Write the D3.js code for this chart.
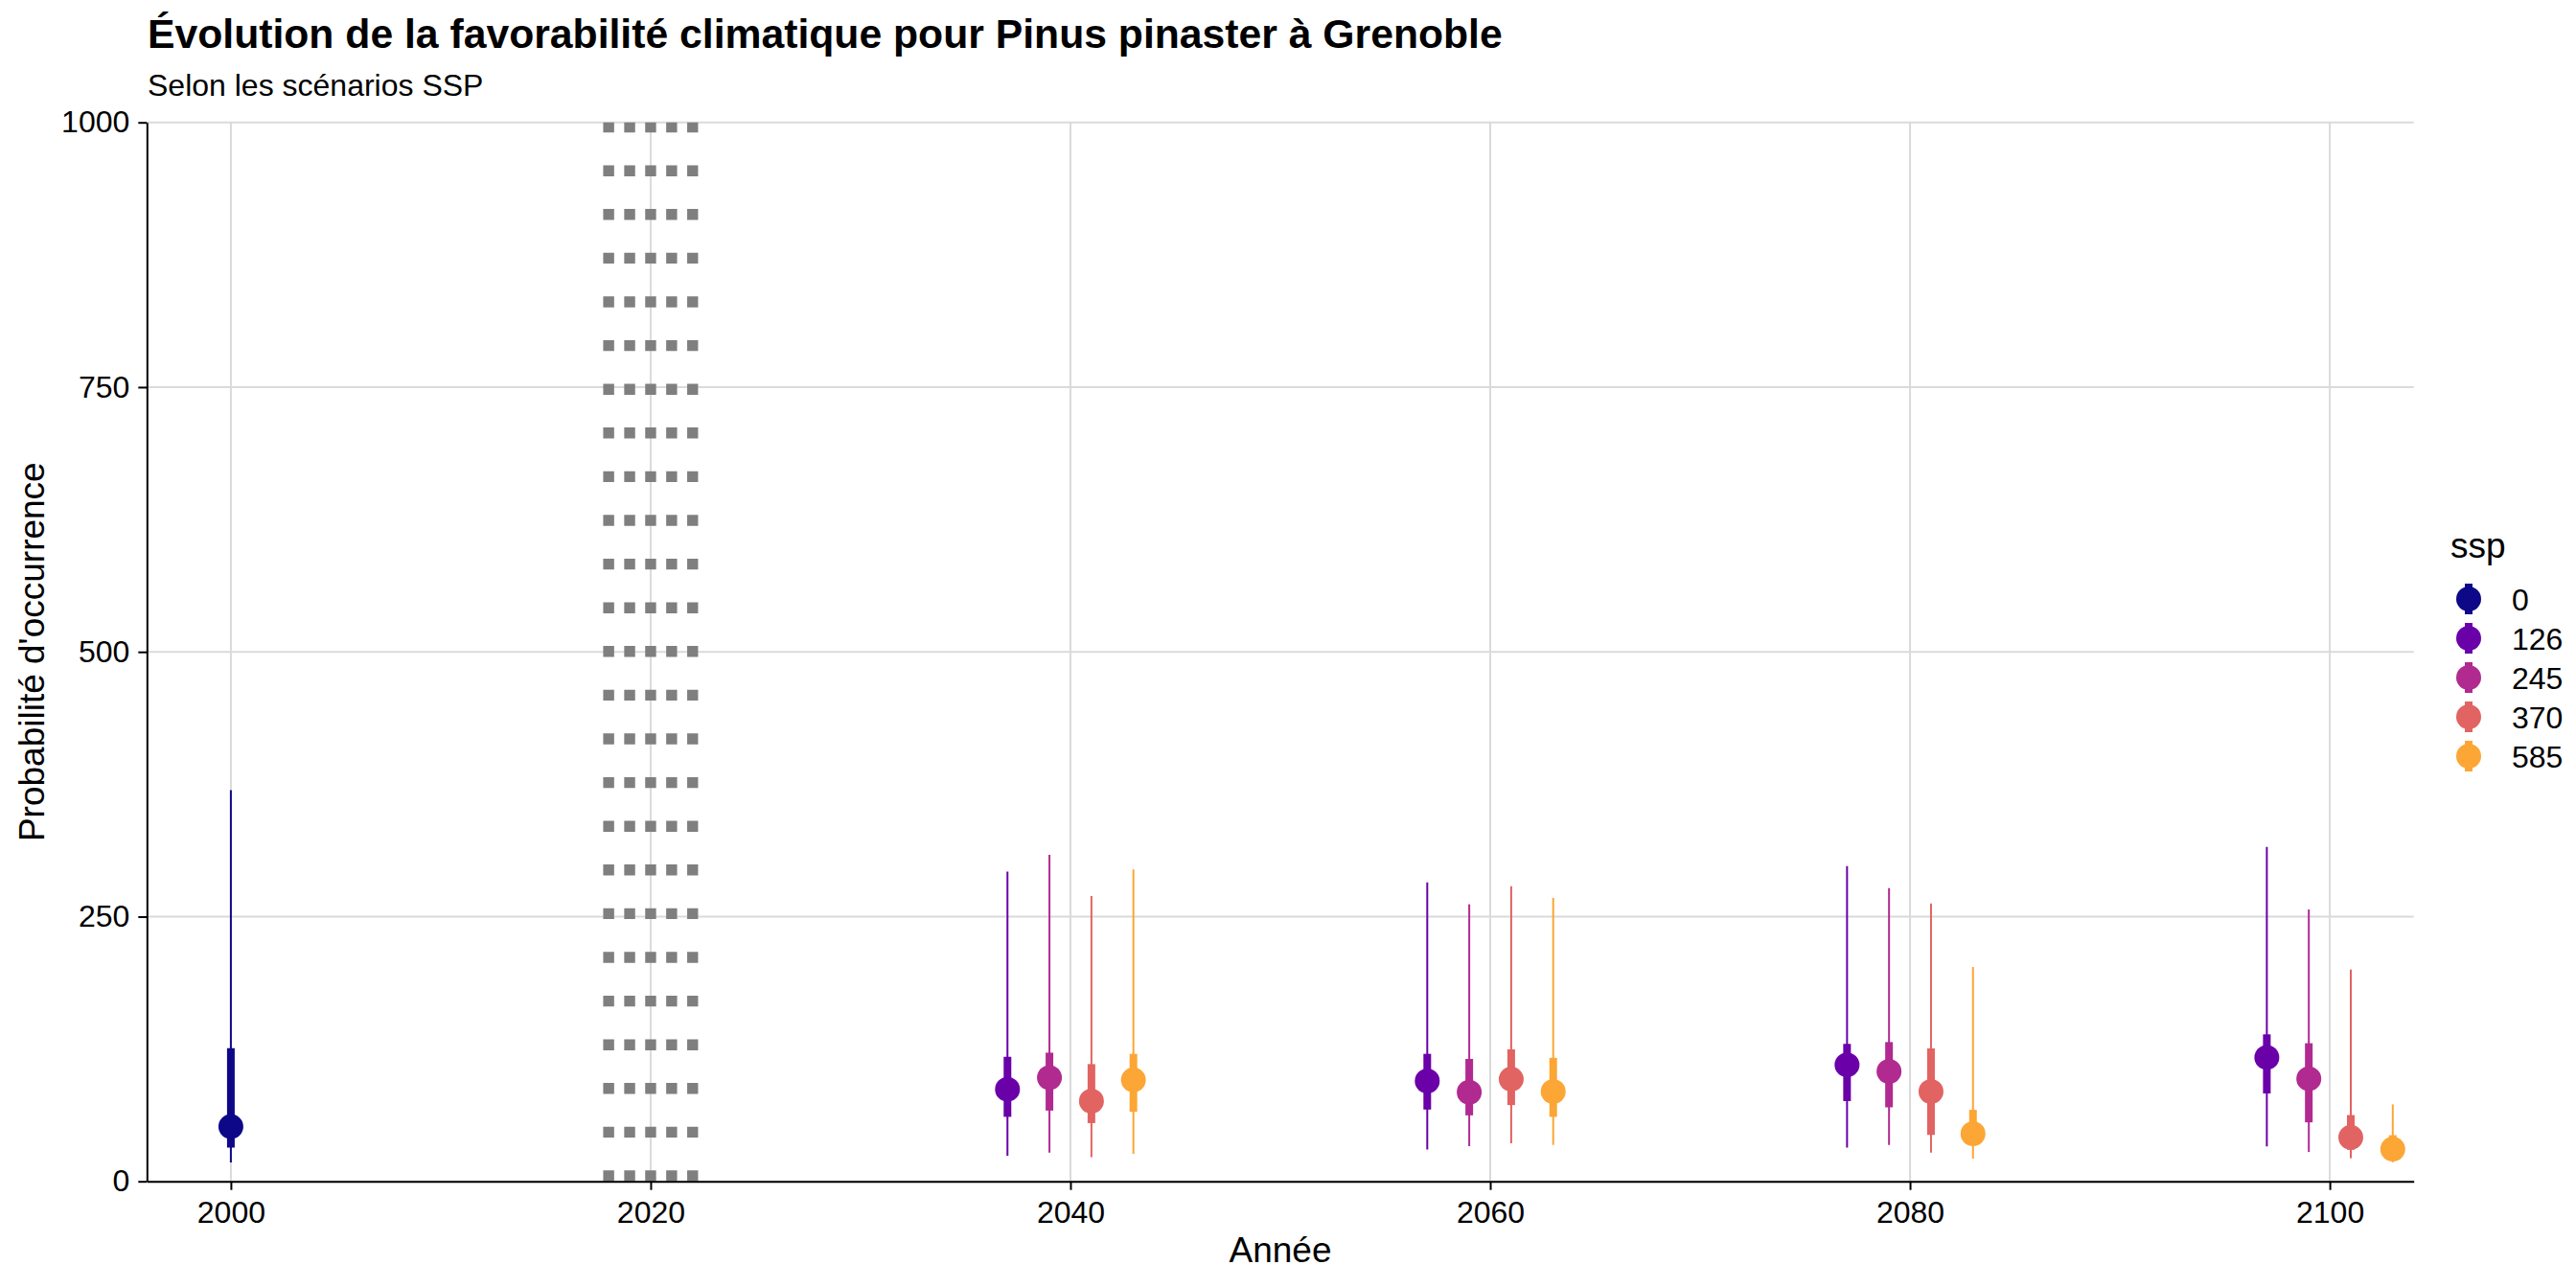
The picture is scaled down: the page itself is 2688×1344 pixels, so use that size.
<!DOCTYPE html>
<html>
<head>
<meta charset="utf-8">
<script src="https://cdn.jsdelivr.net/npm/d3@7"></script>
<style>
  body { margin: 0; background: #fff; }
  text { font-family: "Liberation Sans", Arial, Helvetica, sans-serif; fill: #000; }
</style>
</head>
<body>
<script>
// scenarios, periods, ticks
let ssps = ["0", "126", "245", "370", "585"];
let futureSsps = ["126", "245", "370", "585"];
let periods = [2040, 2060, 2080, 2100];
let refYear = 2000;
let cutYears = [2018, 2019, 2020, 2021, 2022];
let xTicks = [2000, 2020, 2040, 2060, 2080, 2100];
let yTicks = [0, 250, 500, 750, 1000];
let palette = ["#0D0887", "#6A00A8", "#B12A90", "#E16462", "#FCA636"];

// reference period, ssp 0: lo95, lo50, median, hi50, hi95
let refStats = [17.8, 31.9, 51.7, 125.7, 369.4];

// future periods: one row per ssp (126, 245, 370, 585), one column per period
let medians = [
  [86.9, 94.8, 110.0, 117.0],
  [97.9, 84.1, 103.8, 96.9],
  [75.8, 96.5, 84.8, 41.5],
  [95.8, 84.8, 45.0, 30.4]
];
let lo50 = [
  [60.9, 67.8, 75.8, 83.0],
  [66.8, 62.3, 69.9, 55.7],
  [55.0, 72.0, 43.9, 29.8],
  [65.7, 60.9, 35.0, 23.5]
];
let hi50 = [
  [117.6, 120.4, 129.8, 138.8],
  [121.5, 115.6, 131.5, 130.4],
  [110.7, 124.6, 125.6, 62.6],
  [120.4, 116.6, 67.5, 43.6]
];
let lo95 = [
  [24.2, 30.1, 31.8, 32.9],
  [27.0, 33.2, 34.3, 27.7],
  [22.8, 36.0, 27.0, 21.8],
  [26.0, 34.3, 21.5, 18.0]
];
let hi95 = [
  [292.4, 282.4, 297.6, 315.9],
  [308.3, 261.6, 276.8, 256.7],
  [269.5, 278.6, 262.3, 200.0],
  [294.5, 267.5, 202.4, 72.7]
];

// rows for drawing
let rows = [{ssp: "0", year: refYear, off: 0,
  lo95: refStats[0], lo50: refStats[1], med: refStats[2], hi50: refStats[3], hi95: refStats[4]}];

let dodge = d3.scalePoint().domain(futureSsps).range([-3, 3]);

futureSsps.forEach(function(s, i) {
  periods.forEach(function(p, j) {
    rows.push({ssp: s, year: p, off: dodge(s),
      lo95: lo95[i][j], lo50: lo50[i][j], med: medians[i][j], hi50: hi50[i][j], hi95: hi95[i][j]});
  });
});

// size of the page
let w = 2688;
let h = 1344;
let pLeft = 153.3, pRight = 2518.7, pTop = 127.7, pBottom = 1232.7;

let svg = d3.select("body")
            .append("svg")
            .attr("width", w)
            .attr("height", h);

svg.append("rect")
   .attr("width", w)
   .attr("height", h)
   .attr("fill", "#fff");

let x = d3.scaleLinear().domain([1996, 2104]).range([pLeft, pRight]);
let y = d3.scaleLinear().domain([0, 1000]).range([pBottom, pTop]);
let color = d3.scaleOrdinal().domain(ssps).range(palette);

//====grid====//
svg.selectAll("line.hgrid")
   .data(yTicks)
   .enter()
   .append("line")
   .attr("class", "hgrid")
   .attr("x1", pLeft)
   .attr("x2", pRight)
   .attr("y1", function(d) { return y(d); })
   .attr("y2", function(d) { return y(d); })
   .attr("stroke", "#dadada")
   .attr("stroke-width", 2);

svg.selectAll("line.vgrid")
   .data(xTicks)
   .enter()
   .append("line")
   .attr("class", "vgrid")
   .attr("x1", function(d) { return x(d); })
   .attr("x2", function(d) { return x(d); })
   .attr("y1", pBottom)
   .attr("y2", pTop)
   .attr("stroke", "#dadada")
   .attr("stroke-width", 2);

//====dotted lines around 2020====//
svg.selectAll("line.cut")
   .data(cutYears)
   .enter()
   .append("line")
   .attr("class", "cut")
   .attr("x1", function(d) { return x(d); })
   .attr("x2", function(d) { return x(d); })
   .attr("y1", pBottom)
   .attr("y2", pTop)
   .attr("stroke", "#7f7f7f")
   .attr("stroke-width", 11.4)
   .attr("stroke-dasharray", "11.4,34.2")
   .attr("stroke-linecap", "butt");

//====intervals====//
let g = svg.append("g");

g.selectAll("line.thin")
 .data(rows)
 .enter()
 .append("line")
 .attr("class", "thin")
 .attr("x1", function(d) { return x(d.year + d.off); })
 .attr("x2", function(d) { return x(d.year + d.off); })
 .attr("y1", function(d) { return y(d.lo95); })
 .attr("y2", function(d) { return y(d.hi95); })
 .attr("stroke", function(d) { return color(d.ssp); })
 .attr("stroke-width", 2);

g.selectAll("line.thick")
 .data(rows)
 .enter()
 .append("line")
 .attr("class", "thick")
 .attr("x1", function(d) { return x(d.year + d.off); })
 .attr("x2", function(d) { return x(d.year + d.off); })
 .attr("y1", function(d) { return y(d.lo50); })
 .attr("y2", function(d) { return y(d.hi50); })
 .attr("stroke", function(d) { return color(d.ssp); })
 .attr("stroke-width", 8);

g.selectAll("circle")
 .data(rows)
 .enter()
 .append("circle")
 .attr("cx", function(d) { return x(d.year + d.off); })
 .attr("cy", function(d) { return y(d.med); })
 .attr("r", 13)
 .attr("fill", function(d) { return color(d.ssp); });

//====axes====//
let yAxis = svg.append("g")
   .attr("transform", "translate(" + pLeft + ",0)")
   .call(d3.axisLeft(y).tickValues(yTicks).tickFormat(d3.format("d")).tickSize(9).tickSizeOuter(0).tickPadding(9));

let xAxis = svg.append("g")
   .attr("transform", "translate(0," + pBottom + ")")
   .call(d3.axisBottom(x).tickValues(xTicks).tickFormat(d3.format("d")).tickSize(9).tickSizeOuter(0).tickPadding(12));

[yAxis, xAxis].forEach(function(a) {
  a.select(".domain").attr("stroke", "#000").attr("stroke-width", 2);
  a.selectAll(".tick line").attr("stroke", "#000").attr("stroke-width", 2);
  a.selectAll(".tick text")
   .attr("font-family", "Liberation Sans, Arial, sans-serif")
   .attr("font-size", "32px")
   .attr("fill", "#000");
});

//====titles====//
svg.append("text")
   .attr("x", 154)
   .attr("y", 50)
   .attr("font-size", "42.7px")
   .attr("font-weight", "bold")
   .text("Évolution de la favorabilité climatique pour Pinus pinaster à Grenoble");

svg.append("text")
   .attr("x", 154)
   .attr("y", 100)
   .attr("font-size", "32px")
   .text("Selon les scénarios SSP");

svg.append("text")
   .attr("x", (pLeft + pRight) / 2)
   .attr("y", 1317)
   .attr("text-anchor", "middle")
   .attr("font-size", "37px")
   .text("Année");

svg.append("text")
   .attr("transform", "translate(46," + ((pTop + pBottom) / 2) + ") rotate(-90)")
   .attr("text-anchor", "middle")
   .attr("font-size", "37px")
   .text("Probabilité d'occurrence");

//====legend====//
let legend = svg.append("g");

legend.append("text")
      .attr("x", 2557)
      .attr("y", 582)
      .attr("font-size", "37px")
      .text("ssp");

let keys = legend.selectAll("g.key")
      .data(ssps)
      .enter()
      .append("g")
      .attr("class", "key")
      .attr("transform", function(d, i) { return "translate(2576," + (625 + i * 41) + ")"; });

keys.append("line")
    .attr("y1", -16)
    .attr("y2", 16)
    .attr("stroke", function(d) { return color(d); })
    .attr("stroke-width", 8);

keys.append("circle")
    .attr("r", 13)
    .attr("fill", function(d) { return color(d); });

keys.append("text")
    .attr("x", 45)
    .attr("dy", "0.36em")
    .attr("font-size", "32px")
    .text(function(d) { return d; });
</script>
</body>
</html>
